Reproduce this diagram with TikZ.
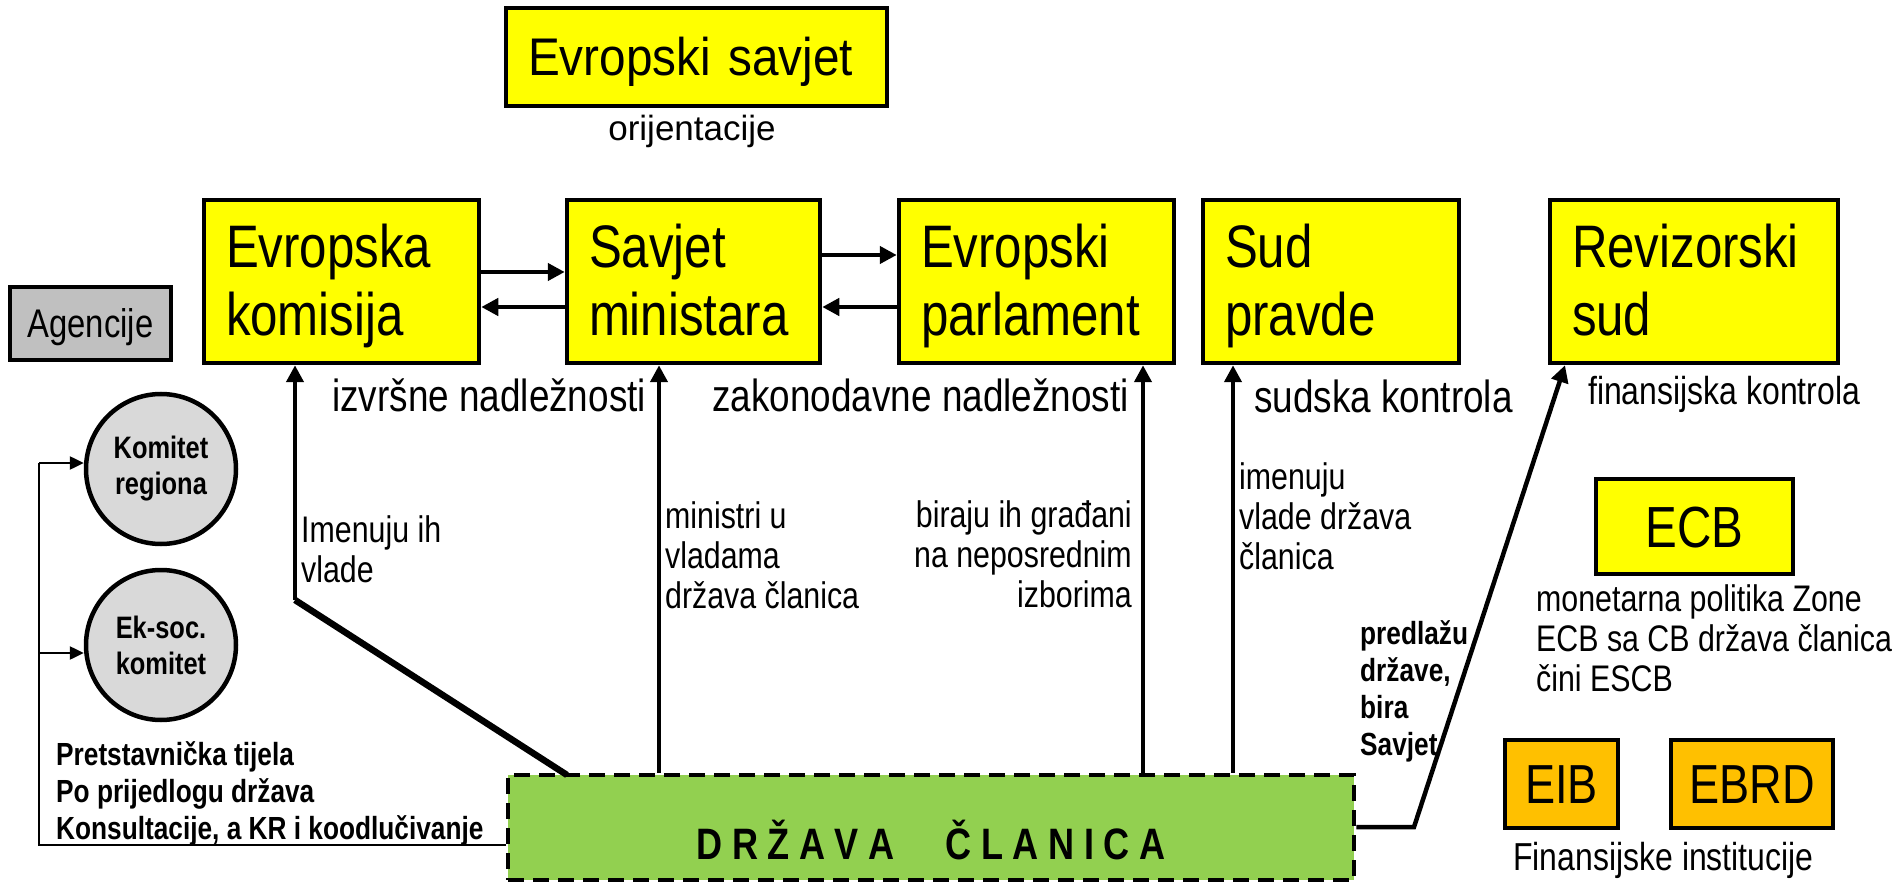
\documentclass[tikz,border=0pt]{standalone}
\usepackage{fontspec}
\setmainfont{Liberation Sans}[FakeStretch=0.82]
\newfontfamily\esfont{Liberation Sans}[FakeStretch=0.9]
\newfontfamily\widefont{Liberation Sans}
\usetikzlibrary{arrows.meta,calc}
\definecolor{ybg}{HTML}{FFFF00}
\definecolor{gbg}{HTML}{92D050}
\definecolor{obg}{HTML}{FFC000}
\definecolor{agbg}{HTML}{C0C0C0}
\definecolor{cbg}{HTML}{D9D9D9}
\begin{document}
\begin{tikzpicture}[x=1pt,y=-1pt,
  ybox/.style={draw=black, line width=4.5pt, fill=ybg, inner sep=0pt, align=left},
  topbox/.style={ybox, minimum height=163pt, inner xsep=22pt, text height=68pt, text depth=95pt,
                 font=\fontsize{60}{68}\selectfont},
  obox/.style={draw=black, line width=4.5pt, fill=obg, minimum height=88pt, inner sep=0pt,
               text height=39pt, text depth=0pt, font=\fontsize{55}{60}\selectfont},
  gcirc/.style={circle, draw=black, line width=4.5pt, fill=cbg, minimum size=150pt, inner sep=0pt, align=center, font=\bfseries\fontsize{31}{36}\selectfont},
  txt/.style={inner sep=0pt},
  lab/.style={inner sep=0pt, align=left, anchor=north west, font=\fontsize{37}{40}\selectfont},
  blab/.style={inner sep=0pt, align=left, anchor=north west, font=\bfseries\fontsize{32}{37}\selectfont},
  big/.style={font=\fontsize{45}{50}\selectfont},
  mid/.style={font=\fontsize{39}{44}\selectfont},
  arr/.style={line width=4.5pt, -{Triangle[length=17pt,width=17pt]}},
  thinarr/.style={line width=2.5pt, -{Triangle[length=14pt,width=13pt]}},
  thinline/.style={line width=2.5pt}
]
\useasboundingbox (0,0) rectangle (1893,882);

% top
\node[ybox, minimum width=381pt, minimum height=98pt, text width=337pt, inner xsep=22pt,
      text height=38pt, text depth=0pt,
      font=\esfont\fontsize{53}{56}\selectfont] (es) at (696.5,57) {Evropski savjet};
\node[txt, font=\widefont\fontsize{35}{40}\selectfont] (ori) at (692,131) {orijentacije};

% institutions
\node[topbox, minimum width=275pt, text width=231pt] (ek) at (341.5,281.5) {Evropska\\komisija};
\node[topbox, minimum width=253pt, text width=209pt] (sm) at (693.5,281.5) {Savjet\\ministara};
\node[topbox, minimum width=275pt, text width=231pt] (ep) at (1036.5,281.5) {Evropski\\parlament};
\node[topbox, minimum width=256pt, text width=212pt] (sp) at (1331,281.5) {Sud\\pravde};
\node[topbox, minimum width=288pt, text width=244pt] (rs) at (1694,281.5) {Revizorski\\sud};

\node[draw=black, line width=4.5pt, fill=agbg, minimum width=161pt, minimum height=73pt, inner sep=0pt,
      text height=29pt, text depth=0pt,
      font=\fontsize{40}{44}\selectfont] (ag) at (90.5,323.5) {Agencije};

\node[gcirc] (kr) at (161,469) {Komitet\\regiona};
\node[gcirc] (eks) at (161,645) {Ek-soc.\\komitet};

% ECB, EIB, EBRD
\node[ybox, minimum width=197pt, minimum height=95pt, align=center, text height=41pt, text depth=0pt,
      font=\fontsize{58}{62}\selectfont] (ecb) at (1694.5,526.5) {ECB};
\node[obox, minimum width=113pt] (eib) at (1561.5,784) {EIB};
\node[obox, minimum width=162pt] (ebrd) at (1752,784) {EBRD};

% member state
\node[draw=black, line width=4.5pt, dash pattern=on 16pt off 9pt, fill=gbg,
      minimum width=846pt, minimum height=105pt, inner sep=0pt, text height=63pt, text depth=0pt,
      font=\bfseries\fontsize{44}{46}\selectfont] (dc) at (931,827.5)
      {\spaceskip=9.6pt D R Ž A V A\hspace{51pt}Č L A N I C A};

% labels
\node[txt, big, anchor=base west] (m1) at (332,412) {izvršne nadležnosti};
\node[txt, big, anchor=base east] (m2) at (1129,412) {zakonodavne nadležnosti};
\node[txt, big, anchor=base west] (m3) at (1254,413) {sudska kontrola};
\node[txt, mid, anchor=base west] (m4) at (1588,405) {finansijska kontrola};
\node[lab] (l1) at (301,515) {Imenuju ih\\vlade};
\node[lab] (l2) at (665,501) {ministri u\\vladama\\država članica};
\node[lab, anchor=north east, align=right] (l3) at (1132,500) {biraju ih građani\\na neposrednim\\izborima};
\node[lab] (l4) at (1239,462) {imenuju\\vlade država\\članica};
\node[blab] (l5) at (1360,620) {predlažu\\države,\\bira\\Savjet};
\node[lab] (l6) at (1536,584) {monetarna politika Zone\\ECB sa CB država članica\\čini ESCB};
\node[blab] (l7) at (56,741) {Pretstavnička tijela\\Po prijedlogu država\\Konsultacije, a KR i koodlučivanje};
\node[txt, mid, anchor=base west] (fi) at (1513,870) {Finansijske institucije};

% helper coordinates
\coordinate (ya) at (0,272);
\coordinate (yb) at (0,307);
\coordinate (yc) at (0,255);
\coordinate (d1) at (567,775);
\coordinate (k1) at (295,600);
\coordinate (xs) at (659,0);
\coordinate (xp) at (1143,0);
\coordinate (xj) at (1233,0);
\coordinate (r1) at (1414,827);
\coordinate (r2) at (1565,0);
\coordinate (lc) at (39,845);
\coordinate (lk) at (39,463);
\coordinate (le) at (39,653);

% arrows between institutions
\draw[arr] (ek.east |- ya) -- (sm.west |- ya);
\draw[arr] (sm.west |- yb) -- (ek.east |- yb);
\draw[arr] (sm.east |- yc) -- (ep.west |- yc);
\draw[arr] (ep.west |- yb) -- (sm.east |- yb);

% from member state
\draw[line width=6.5pt] (d1) -- (k1);
\draw[arr] (k1) -- (ek.south -| k1);
\draw[arr] (dc.north -| xs) -- (sm.south -| xs);
\draw[arr] (dc.north -| xp) -- (ep.south -| xp);
\draw[arr] (dc.north -| xj) -- (sp.south -| xj);
\draw[arr, line join=miter] (dc.east |- r1) -- (r1) -- (rs.south -| r2);

% left connector
\draw[thinline] (dc.west |- lc) -- (lc) -- (lk);
\draw[thinarr] (lk) -- (kr.west |- lk);
\draw[thinarr] (le) -- (eks.west |- le);
\end{tikzpicture}
\end{document}
